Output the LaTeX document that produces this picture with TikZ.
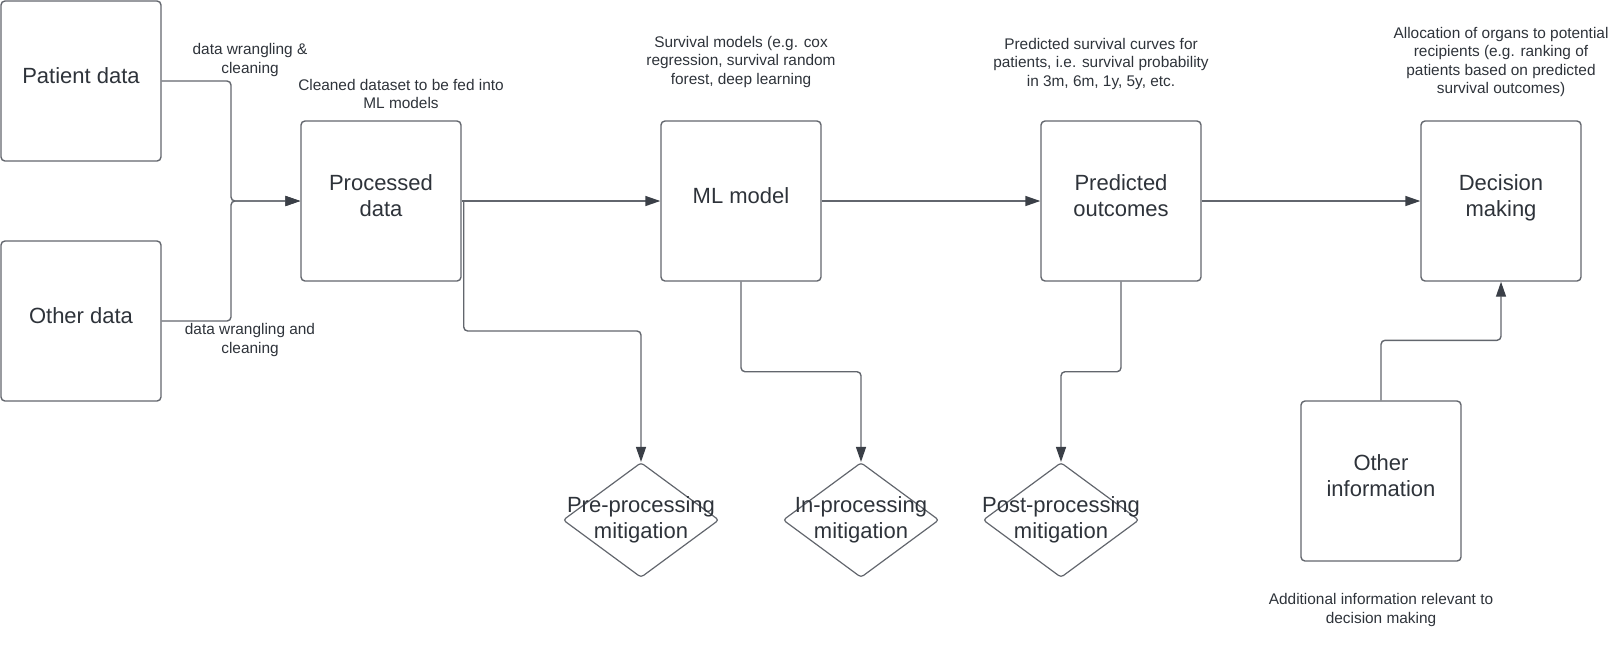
\documentclass[tikz,border=0pt]{standalone}
\usepackage{fontspec}
\setmainfont{Liberation Sans}
\usetikzlibrary{arrows.meta,shapes.geometric}
\definecolor{inkgrey}{HTML}{2E333A}
\definecolor{edgegrey}{HTML}{62666D}
\definecolor{tipgrey}{HTML}{3A3F47}
\tikzset{
  flowarrow/.style={-{Triangle[length=7.5pt, width=5pt, color=tipgrey]}, draw=edgegrey, line width=0.7pt, rounded corners=2pt},
  stagebox/.style={draw=edgegrey, line width=0.7pt, rounded corners=2pt, minimum width=80pt, minimum height=80pt, align=center, font=\fontsize{11}{13}\selectfont, text=inkgrey, execute at end node={\rule[-5.5pt]{0pt}{0pt}}},
  mitigate/.style={diamond, draw=edgegrey, line width=0.6pt, rounded corners=1.5pt, minimum width=78pt, minimum height=57.5pt, inner sep=0pt},
  mitlabel/.style={align=center, font=\fontsize{11}{13}\selectfont, text=inkgrey},
  caption/.style={align=center, font=\fontsize{7.7}{9.3}\selectfont, text=inkgrey}
}

\begin{document}
\begin{tikzpicture}[x=0.5pt, y=-0.5pt]
  \useasboundingbox (0,0) rectangle (1620,655);
  % stages
  \node[stagebox] (patient) at (81,81) {Patient data};
  \node[stagebox] (otherdat) at (81,321) {Other data};
  \node[stagebox] (proc) at (381,201) {Processed\\data};
  \node[stagebox] (ml) at (741,201) {ML model};
  \node[stagebox] (pred) at (1121,201) {Predicted\\outcomes};
  \node[stagebox] (dec) at (1501,201) {Decision\\making};
  \node[stagebox] (otherinfo) at (1381,481) {Other\\information};
  % mitigation points
  \node[mitigate, label={[mitlabel]center:Pre-processing\\mitigation}] (premit) at (641,520) {};
  \node[mitigate, label={[mitlabel]center:In-processing\\mitigation}] (inmit) at (861,520) {};
  \node[mitigate, label={[mitlabel]center:Post-processing\\mitigation}] (postmit) at (1061,520) {};
  % notes
  \node[caption] (wrangle1) at (250,60) {data wrangling \&\\cleaning};
  \node[caption] (wrangle2) at (250,340) {data wrangling and\\cleaning};
  \node[caption] (proccap) at (401,94) {Cleaned dataset to be fed into\\ML models};
  \node[caption] (mlcap) at (741,62) {Survival models (e.g. cox\\regression, survival random\\forest, deep learning};
  \node[caption] (predcap) at (1101,64) {Predicted survival curves for\\patients, i.e. survival probability\\in 3m, 6m, 1y, 5y, etc.};
  \node[caption] (deccap) at (1501,62) {Allocation of organs to potential\\recipients (e.g. ranking of\\patients based on predicted\\survival outcomes)};
  \node[caption] (infocap) at (1381,610) {Additional information relevant to\\decision making};
  % connectors
  \coordinate (merge) at (231,201);
  \draw[flowarrow] (patient.east) -| (merge) -- (proc.west);
  \draw[flowarrow] (otherdat.east) -| (merge) -- (proc.west);
  \draw[flowarrow] (proc.east) -- (ml.west);
  \draw[flowarrow] (ml.east) -- (pred.west);
  \draw[flowarrow] (pred.east) -- (dec.west);
  \draw[flowarrow] ([xshift=1pt]proc.east) -- ++(0,130) -| (premit.north);
  \draw[flowarrow] (ml.south) -- ++(0,90) -| (inmit.north);
  \draw[flowarrow] (pred.south) -- ++(0,90) -| (postmit.north);
  \draw[flowarrow] (otherinfo.north) -- ++(0,-60) -| (dec.south);
\end{tikzpicture}
\end{document}
